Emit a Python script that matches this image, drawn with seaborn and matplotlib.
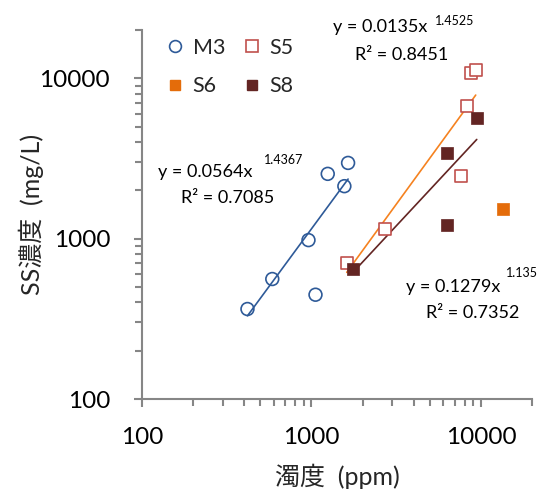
import numpy as np
import pandas as pd
import matplotlib
matplotlib.use("Agg")
import matplotlib.pyplot as plt
import seaborn as sns
from matplotlib.ticker import FixedLocator, LogLocator, NullFormatter, FixedFormatter
from matplotlib.lines import Line2D

# ---- data ----
m3_x = [419, 587, 960, 1056, 1247, 1563, 1644]
m3_y = [364, 560, 979, 447, 2535, 2124, 2966]
s5_x = [1614, 2716, 7600, 8300, 8690, 9310]
s5_y = [700, 1145, 2449, 6700, 10790, 11220]
s6_x = [13530]
s6_y = [1527]
s8_x = [1750, 6280, 6280, 9440]
s8_y = [648, 3443, 1225, 5690]

# power-law trendlines shown on the chart: y = a * x^b  (a, b, R^2)
m3_fit = (0.0564, 1.4367, 0.7085)
s5_fit = (0.0135, 1.4525, 0.8451)
s8_fit = (0.1279, 1.135, 0.7352)

x_ticks = [100, 1000, 10000]
y_ticks = [100, 1000, 10000]
x_label = "濁度  (ppm)"
y_label = "SS濃度  (mg/L)"

sns.set_theme(style="white")
plt.rcParams["font.family"] = ["Lato", "Noto Sans CJK JP", "DejaVu Sans"]

C_M3 = "#2E5A98"
C_S5 = "#C0504D"
C_S6 = "#E46C0A"
C_S8 = "#632523"
C_S5_LINE = "#F58220"
GRAY = "#868686"

fig = plt.figure(figsize=(5.4, 4.96), dpi=100)
AX_L, AX_R, AX_T, AX_B = 142, 532, 30, 399
ax = fig.add_axes([AX_L / 540, 1 - AX_B / 496, (AX_R - AX_L) / 540, (AX_B - AX_T) / 496])
ax.set_xscale("log")
ax.set_yscale("log")

def fit_line(xs, fit, color):
    a, b, _ = fit
    lx = np.array([min(xs), max(xs)], dtype=float)
    df = pd.DataFrame({"x": lx, "y": a * lx ** b})
    sns.lineplot(data=df, x="x", y="y", ax=ax, color=color, lw=1.2, legend=False)

fit_line(m3_x, m3_fit, C_M3)
fit_line(s5_x, s5_fit, C_S5_LINE)
fit_line(s8_x, s8_fit, C_S8)

ms = 85
sns.scatterplot(x=m3_x, y=m3_y, ax=ax, marker="o", s=ms, facecolor="none",
                edgecolor=C_M3, linewidth=1.2, zorder=3)
sns.scatterplot(x=s5_x, y=s5_y, ax=ax, marker="s", s=ms, facecolor="white",
                edgecolor=C_S5, linewidth=1.2, zorder=3)
sns.scatterplot(x=s6_x, y=s6_y, ax=ax, marker="s", s=ms * 0.8, color=C_S6,
                edgecolor=C_S6, linewidth=0.5, zorder=3)
sns.scatterplot(x=s8_x, y=s8_y, ax=ax, marker="s", s=ms * 0.8, color=C_S8,
                edgecolor=C_S8, linewidth=0.5, zorder=4)

ax.set_xlim(100, 20000)
ax.set_ylim(100, 20000)

for sp in ["top", "right"]:
    ax.spines[sp].set_visible(False)
for sp in ["left", "bottom"]:
    ax.spines[sp].set_color(GRAY)
    ax.spines[sp].set_linewidth(1.5)

ax.xaxis.set_major_locator(FixedLocator(x_ticks))
ax.xaxis.set_major_formatter(FixedFormatter([str(v) for v in x_ticks]))
ax.yaxis.set_major_locator(FixedLocator(y_ticks))
ax.yaxis.set_major_formatter(FixedFormatter([str(v) for v in y_ticks]))
ax.xaxis.set_minor_locator(LogLocator(base=10, subs=np.arange(2, 10)))
ax.yaxis.set_minor_locator(LogLocator(base=10, subs=np.arange(2, 10)))
ax.xaxis.set_minor_formatter(NullFormatter())
ax.yaxis.set_minor_formatter(NullFormatter())
ax.tick_params(axis="both", which="major", direction="out", length=6, width=1.5,
               color=GRAY, labelsize=17.5, labelcolor="black")
ax.tick_params(axis="x", which="major", pad=14)
ax.tick_params(axis="y", which="major", pad=17)
ax.tick_params(axis="both", which="minor", direction="out", length=5, width=1.5,
               color=GRAY)
ax.tick_params(axis="x", which="both", bottom=True)
ax.tick_params(axis="y", which="both", left=True)

ax.set_xlabel(x_label, fontsize=18)
ax.set_ylabel(y_label, fontsize=18)
ax.xaxis.set_label_coords(0.5, -(464 - AX_B) / (AX_B - AX_T))
ax.yaxis.set_label_coords(-(AX_L - 44) / (AX_R - AX_L), 0.5)

# legend
handles = [
    Line2D([], [], marker="o", ls="none", markersize=8.5, markerfacecolor="none",
           markeredgecolor=C_M3, markeredgewidth=1.2, label="M3"),
    Line2D([], [], marker="s", ls="none", markersize=7.5, markerfacecolor=C_S6,
           markeredgecolor=C_S6, label="S6"),
    Line2D([], [], marker="s", ls="none", markersize=8.5, markerfacecolor="white",
           markeredgecolor=C_S5, markeredgewidth=1.2, label="S5"),
    Line2D([], [], marker="s", ls="none", markersize=7.5, markerfacecolor=C_S8,
           markeredgecolor=C_S8, label="S8"),
]
ax.legend(handles=handles, ncol=2, loc="upper left", bbox_to_anchor=(0.058, 0.979),
          frameon=False, fontsize=15.5, handletextpad=0.3, columnspacing=0.75,
          labelspacing=0.85, handlelength=1.0, borderaxespad=0, borderpad=0)

# trendline equations (pixel anchors converted to axes fractions)
def fx(px):
    return (px - AX_L) / (AX_R - AX_L)

def fy(py):
    return (AX_B - py) / (AX_B - AX_T)

def eq(main_xy, exp_xy, r2_xy, fit):
    a, b, r2 = fit
    kw = dict(transform=ax.transAxes, clip_on=False, va="baseline", ha="left", color="black")
    ax.text(fx(main_xy[0]), fy(main_xy[1]), f"y = {a}x", fontsize=13, **kw)
    ax.text(fx(exp_xy[0]), fy(exp_xy[1]), f"{b}", fontsize=9, **kw)
    ax.text(fx(r2_xy[0]), fy(r2_xy[1]), f"R² = {r2}", fontsize=13, **kw)

eq((158, 177), (264, 164), (181, 203), m3_fit)
eq((333, 32), (435, 25), (355, 60), s5_fit)
eq((406, 292), (506, 277), (426, 318), s8_fit)

fig.savefig("out.png", dpi=100)
